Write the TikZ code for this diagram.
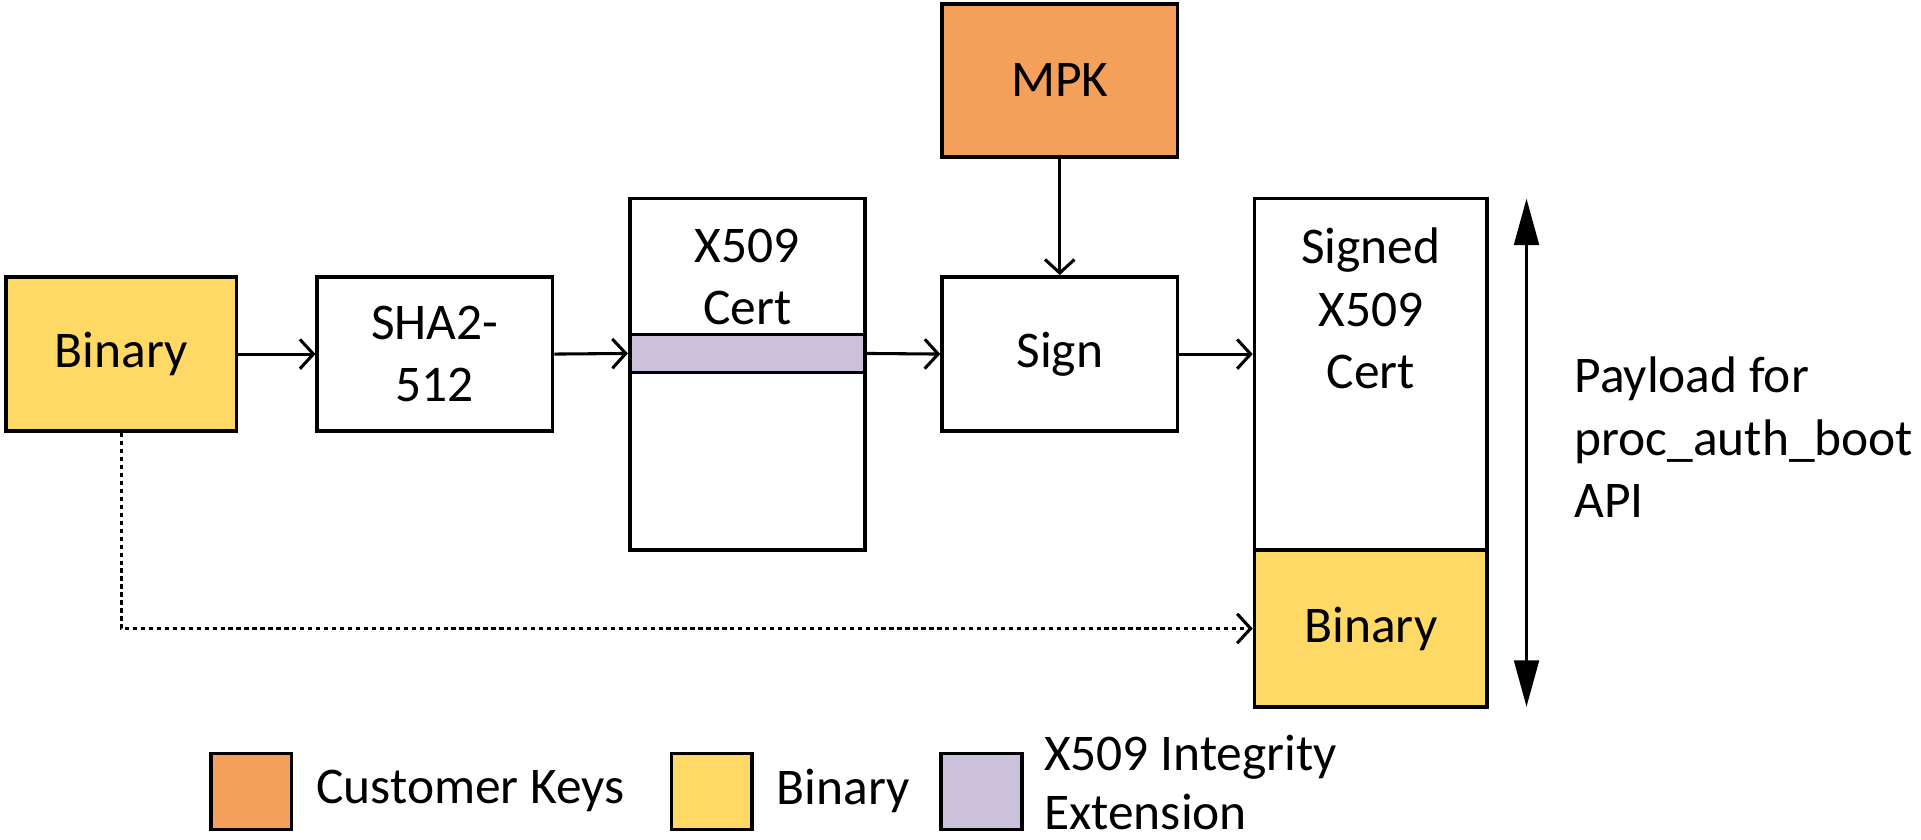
\documentclass[tikz,border=0pt]{standalone}
\usepackage{fontspec}
\setmainfont{Carlito}
\usetikzlibrary{arrows.meta}
\definecolor{keyorange}{HTML}{F4A05A}
\definecolor{binyellow}{HTML}{FFD966}
\definecolor{extpurple}{HTML}{CCC1DA}
\begin{document}
\begin{tikzpicture}[x=1pt,y=-1pt,
  every node/.style={font=\fontsize{42}{51}\selectfont},
  box/.style={draw=black,line width=3pt,rectangle,inner sep=0pt,align=center},
  flow/.style={line width=2.5pt,-{Straight Barb[length=11pt,width=24pt,line width=2.5pt]}},
  dotflow/.style={flow,dash pattern=on 3.5pt off 3pt},
  payload/.style={line width=3pt,{Triangle[length=38pt,width=20pt]}-{Triangle[length=38pt,width=20pt]}},
  legbox/.style={draw=black,line width=3pt,minimum width=66pt,minimum height=62pt,inner sep=0pt}
]
\useasboundingbox (0,0) rectangle (1568,685);
% main row
\node[box,fill=binyellow,minimum width=188pt,minimum height=126pt] (binL) at (99,289) {Binary};
\node[box,minimum width=192pt,minimum height=126pt] (sha) at (355,289) {SHA2-\\512};
\node[box,minimum width=192pt,minimum height=287pt] (cert) at (610,305.5) {};
\node[box,fill=extpurple,minimum width=192pt,minimum height=31pt] (ext) at (610,288.5) {};
\node (certtxt) at (610,226) [align=center] {X509\\Cert};
\node[box,minimum width=192pt,minimum height=126pt] (sign) at (865,289) {Sign};
\node[box,fill=keyorange,minimum width=192pt,minimum height=125pt] (mpk) at (865,65.5) {MPK};
\node[box,minimum width=190pt,minimum height=287pt] (signed) at (1119,305.5) {};
\node (signedtxt) at (1119,252) [align=center] {Signed\\X509\\Cert};
\node[box,fill=binyellow,minimum width=190pt,minimum height=128pt] (binR) at (1119,513) {Binary};
% connectors
\draw[flow] (binL.east) -- (sha.west);
\draw[flow] (sha.east) -- (ext.west);
\draw[flow] (ext.east) -- (sign.west);
\draw[flow] (sign.east) -- (sign.east -| signed.west);
\draw[flow] (mpk.south) -- (sign.north);
\draw[dotflow] (binL.south) |- (binR.west);
% payload
\coordinate (ptop) at (1246,162);
\coordinate (pbot) at (1246,577);
\draw[payload] (ptop) -- (pbot);
\node[anchor=west,align=left,inner sep=0pt] (payload) at (1285,357) {Payload for\\proc\_auth\_boot\\API};
% legend
\node[legbox,fill=keyorange] (lgk) at (205,646) {};
\node[anchor=west,inner sep=0pt] (lgktxt) at (258,646) {Customer Keys};
\node[legbox,fill=binyellow] (lgb) at (581,646) {};
\node[anchor=west,inner sep=0pt] (lgbtxt) at (634,646) {Binary};
\node[legbox,fill=extpurple] (lge) at (801,646) {};
\node[anchor=west,align=left,inner sep=0pt,font=\fontsize{42}{48}\selectfont] (lgetxt) at (852,639) {X509 Integrity\\Extension};
\end{tikzpicture}
\end{document}
